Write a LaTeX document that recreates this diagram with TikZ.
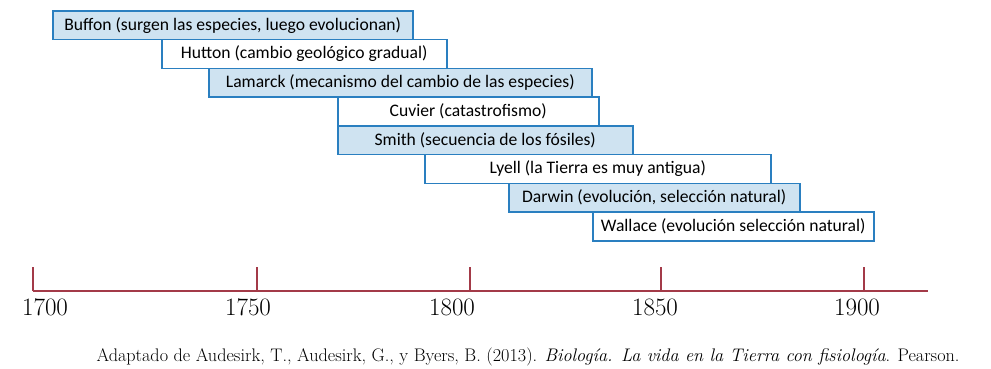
\documentclass[tikz,border=0pt]{standalone}
\usepackage{fontspec}
\newfontfamily\boxfont{Carlito}
\definecolor{boxblue}{HTML}{2A7FC0}
\definecolor{boxfill}{HTML}{CFE3F1}
\definecolor{axisred}{HTML}{A33A48}
\begin{document}
\begin{tikzpicture}[x=1pt,y=-1pt,
  bar/.style={draw=boxblue, line width=1.5pt, minimum height=28.75pt, inner sep=0pt,
    anchor=north west, font=\boxfont\fontsize{17.6}{19}\selectfont, text=black},
  shaded/.style={bar, fill=boxfill},
  plain/.style={bar, fill=white},
  axisline/.style={draw=axisred, line width=1.3pt},
  year/.style={font=\fontsize{25}{28}\selectfont, text=black},
  cite/.style={font=\fontsize{18.2}{20}\selectfont, text=black}]
\useasboundingbox (0,0) rectangle (991,368);
% bars
\node[shaded, minimum width=360pt] (buffon) at (52,10) {Buffon (surgen las especies, luego evolucionan)};
\node[plain, minimum width=285pt] (hutton) at (161,38.75) {Hutton (cambio geológico gradual)};
\node[shaded, minimum width=383pt] (lamarck) at (208,67.5) {Lamarck (mecanismo del cambio de las especies)};
\node[plain, minimum width=261pt] (cuvier) at (337,96.25) {Cuvier (catastrofismo)};
\node[shaded, minimum width=295pt] (smith) at (337,125) {Smith (secuencia de los fósiles)};
\node[plain, minimum width=346pt] (lyell) at (424,153.75) {Lyell (la Tierra es muy antigua)};
\node[shaded, minimum width=291pt] (darwin) at (508,182.5) {Darwin (evolución, selección natural)};
\node[plain, minimum width=281pt] (wallace) at (592,211.25) {Wallace (evolución selección natural)};
% axis
\coordinate (t1700) at (33,291);
\coordinate (t1750) at (257,291);
\coordinate (t1800) at (470,291);
\coordinate (t1850) at (661,291);
\coordinate (t1900) at (864,291);
\coordinate (axend) at (928,291);
\draw[axisline] (t1700) -- (axend);
\foreach \t in {t1700,t1750,t1800,t1850,t1900}
  \draw[axisline] (\t) -- ++(0,-24);
\node[year] (y1700) at (45,307) {1700};
\node[year] (y1750) at (248,307) {1750};
\node[year] (y1800) at (452,307) {1800};
\node[year] (y1850) at (655,307) {1850};
\node[year] (y1900) at (857,307) {1900};
% citation
\node[cite, anchor=east] (cite) at (963,357) {Adaptado de Audesirk, T., Audesirk, G., y Byers, B. (2013). \textit{Biología. La vida en la Tierra con fisiología}. Pearson.};
\end{tikzpicture}
\end{document}
